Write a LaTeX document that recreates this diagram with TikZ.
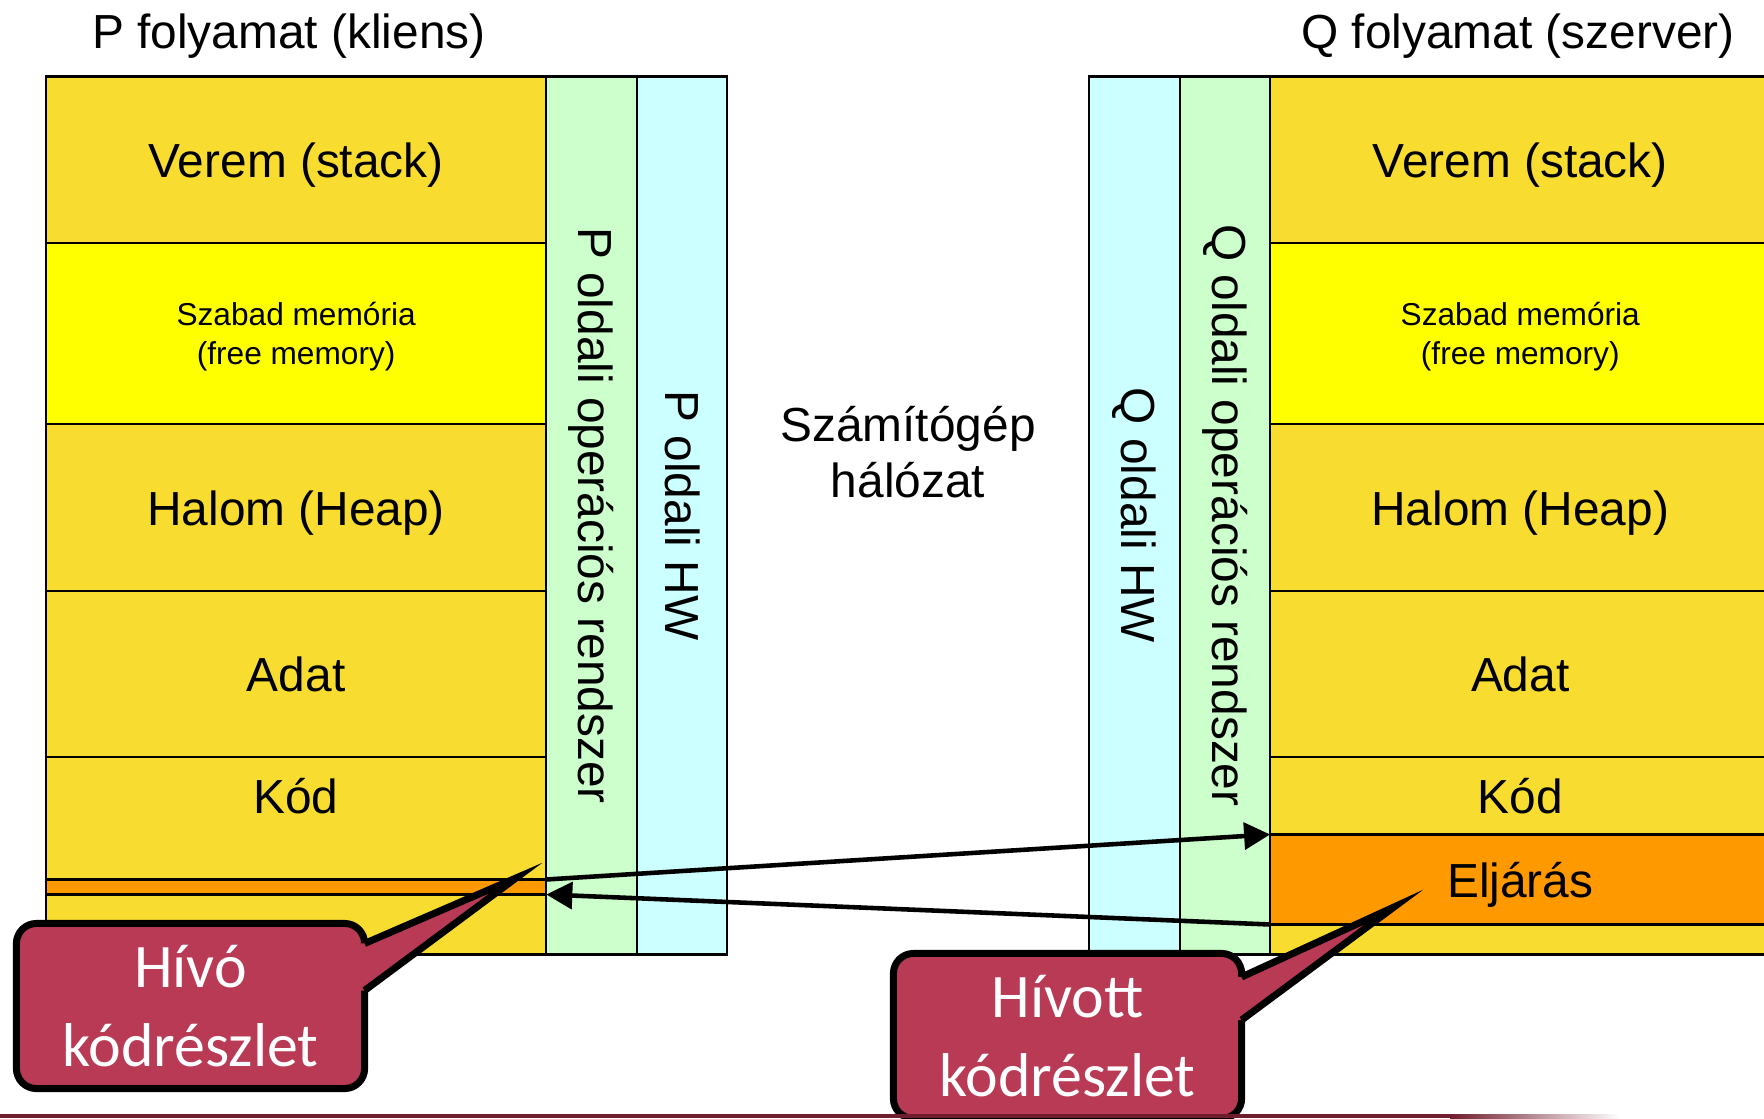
\documentclass[tikz,border=0pt]{standalone}
\usepackage{fontspec}
\setmainfont{Liberation Sans}
\newfontfamily\calloutfont{Carlito}
\usetikzlibrary{arrows.meta,positioning}

\definecolor{segyellow}{RGB}{248,221,48}
\definecolor{freeyellow}{RGB}{255,255,0}
\definecolor{procorange}{RGB}{255,153,0}
\definecolor{osgreen}{RGB}{204,255,204}
\definecolor{hwcyan}{RGB}{204,255,255}
\definecolor{calloutred}{RGB}{185,58,85}
\definecolor{footmaroon}{RGB}{112,30,46}

\begin{document}
\begin{tikzpicture}[x=0.01cm, y=-0.01cm,
    seg/.style={draw, line width=0.6pt, fill=segyellow, inner sep=0pt, outer sep=0pt, minimum width=5cm, text depth=0pt, align=center, font=\fontsize{13.6}{16.3}\selectfont},
    freemem/.style={seg, fill=freeyellow, font=\fontsize{9}{11.1}\selectfont},
    proc/.style={seg, fill=procorange},
    bar/.style={draw, line width=0.6pt, inner sep=0pt, outer sep=0pt, minimum width=0.905cm, minimum height=8.775cm, anchor=north west},
    osbar/.style={bar, fill=osgreen},
    hwbar/.style={bar, fill=hwcyan},
    label/.style={font=\fontsize{13.6}{16}\selectfont, align=center},
    vlabel/.style={label, rotate=-90},
    callout/.style={draw, line width=2pt, fill=calloutred, rounded corners=0.2cm, minimum width=3.48cm, minimum height=1.65cm, inner sep=0pt, outer sep=0pt, text=white, align=center, font=\calloutfont\fontsize{17.6}{22.5}\selectfont},
    pointer/.style={line width=2pt},
    arrow/.style={-{Triangle[length=7.4pt, width=7.6pt]}, line width=1.3pt}
  ]
    \clip (0,0) rectangle (1764,1118);
    % P side (client)
    \node[seg, minimum height=1.665cm, anchor=north west] (pverem) at (46,76.5) {Verem (stack)};
    \node[freemem, minimum height=1.81cm, below=0pt of pverem] (pszabad) {Szabad memória\\(free memory)};
    \node[seg, minimum height=1.67cm, below=0pt of pszabad] (phalom) {Halom (Heap)};
    \node[seg, minimum height=1.66cm, below=0pt of phalom] (padat) {Adat};
    \node[seg, minimum height=1.22cm, below=0pt of padat] (pkod) {};
    \node[proc, minimum height=0.15cm, below=0pt of pkod] (phivo) {};
    \node[seg, minimum height=0.60cm, below=0pt of phivo] (pbottom) {};
    \node[label] (pkodtxt) at (296,796) {Kód};
    \node[osbar, right=0pt of pverem.north east, anchor=north west] (posbar) {};
    \node[hwbar, right=0pt of posbar.north east, anchor=north west] (phwbar) {};
    \node[vlabel] (postxt) at (posbar) {P oldali operációs rendszer};
    \node[vlabel] (phwtxt) at (phwbar) {P oldali HW};
    \node[label] (ptitle) at (289,36) {P folyamat (kliens)};
    % Q side (server)
    \node[hwbar] (qhwbar) at (1089,76.5) {};
    \node[osbar, right=0pt of qhwbar.north east, anchor=north west] (qosbar) {};
    \node[seg, minimum height=1.665cm, right=0pt of qosbar.north east, anchor=north west] (qverem) {Verem (stack)};
    \node[freemem, minimum height=1.81cm, below=0pt of qverem] (qszabad) {Szabad memória\\(free memory)};
    \node[seg, minimum height=1.67cm, below=0pt of qszabad] (qhalom) {Halom (Heap)};
    \node[seg, minimum height=1.66cm, below=0pt of qhalom] (qadat) {Adat};
    \node[seg, minimum height=0.77cm, below=0pt of qadat] (qkod) {Kód};
    \node[proc, minimum height=0.90cm, below=0pt of qkod] (qeljaras) {Eljárás};
    \node[seg, minimum height=0.30cm, below=0pt of qeljaras] (qbottom) {};
    \node[vlabel] (qhwtxt) at (qhwbar) {Q oldali HW};
    \node[vlabel] (qostxt) at (qosbar) {Q oldali operációs rendszer};
    \node[label] (qtitle) at (1518,36) {Q folyamat (szerver)};
    \node[label] (network) at (908,452) {Számítógép\\hálózat};
    % call and return
    \draw[arrow] (pkod.south east) -- (qkod.south west);
    \draw[arrow] (qeljaras.south west) -- (phivo.south east);
    % callouts
    \node[callout] (hivo) at (190.5,1006) {Hívó\\kódrészlet};
    \coordinate (hivotip) at (516,878);
    \fill[calloutred] ([yshift=-0.2cm]hivo.north east) -- (hivotip) -- ([yshift=0.98cm]hivo.south east)
      -- ([xshift=-0.06cm, yshift=0.98cm]hivo.south east) -- ([xshift=-0.06cm, yshift=-0.2cm]hivo.north east) -- cycle;
    \draw[pointer] ([yshift=-0.2cm]hivo.north east) -- (hivotip) -- ([yshift=0.98cm]hivo.south east);
    \node[callout] (hivott) at (1067.5,1036) {Hívott\\kódrészlet};
    \coordinate (hivotttip) at (1394,907);
    \fill[calloutred] ([yshift=-0.235cm]hivott.north east) -- (hivotttip) -- ([yshift=0.985cm]hivott.south east)
      -- ([xshift=-0.06cm, yshift=0.985cm]hivott.south east) -- ([xshift=-0.06cm, yshift=-0.235cm]hivott.north east) -- cycle;
    \draw[pointer] ([yshift=-0.235cm]hivott.north east) -- (hivotttip) -- ([yshift=0.985cm]hivott.south east);
    % footer line
    \fill[footmaroon] (0,1114) rectangle (1450,1118);
    \shade[left color=footmaroon, right color=white] (1450,1114) rectangle (1620,1118);
  \end{tikzpicture}
\end{document}
